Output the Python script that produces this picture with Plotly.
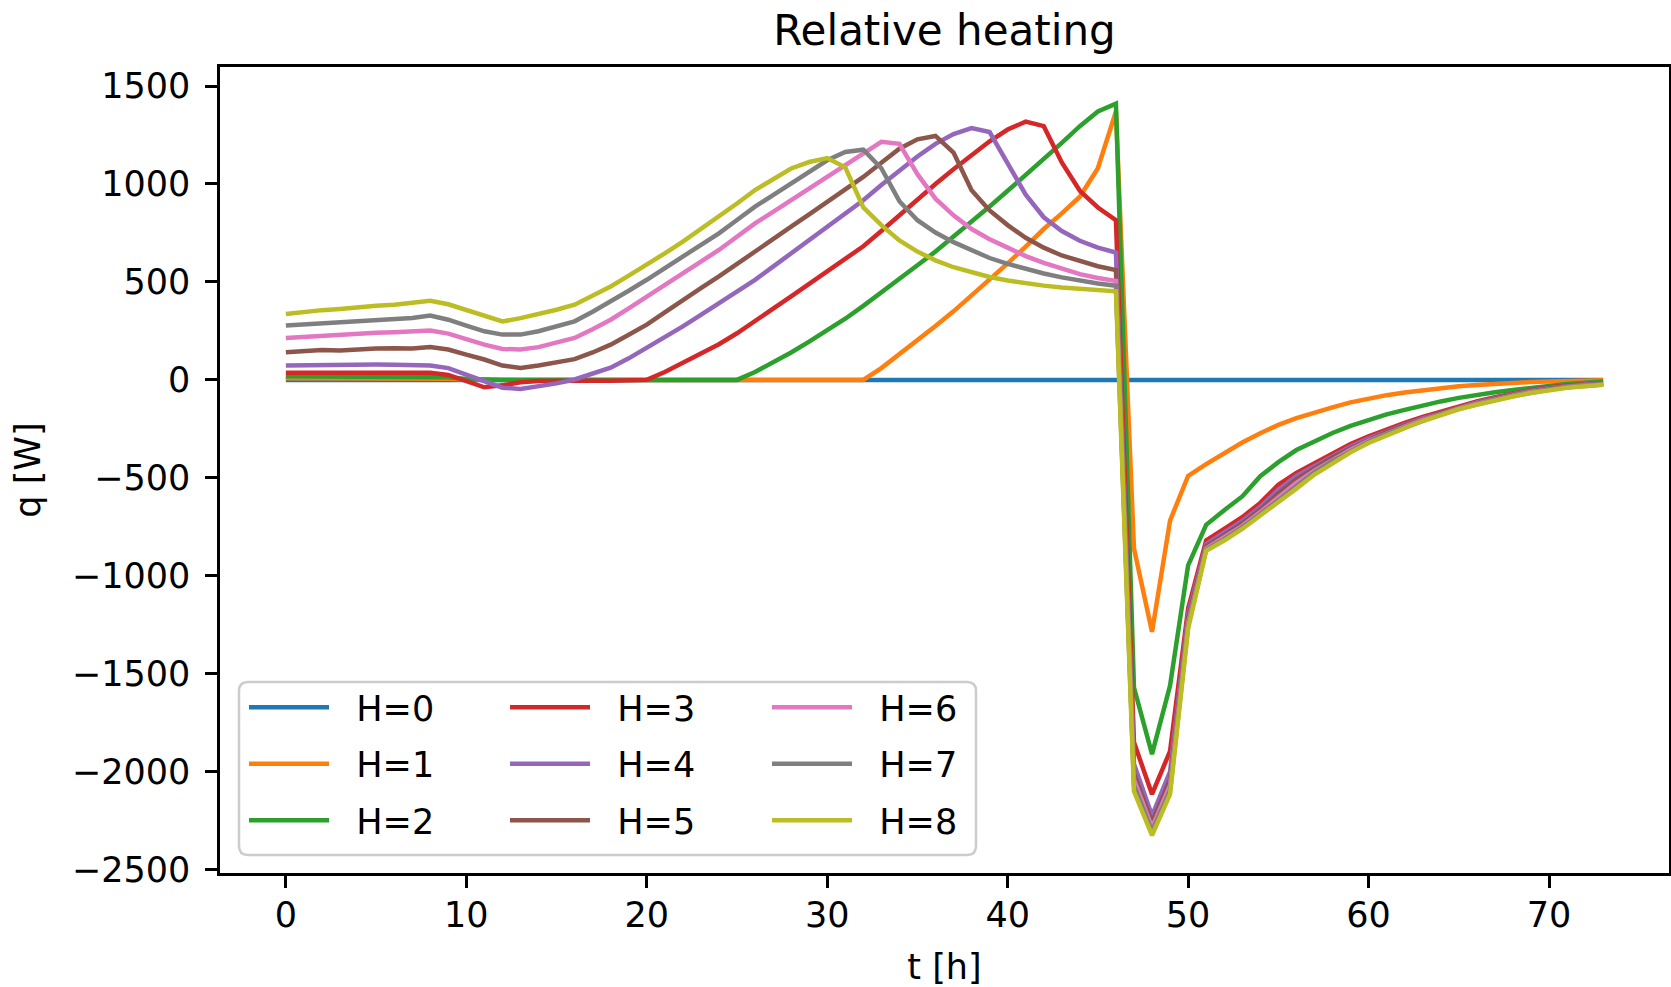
import plotly.graph_objects as go

# ---------------- data ----------------
t_hours = [0, 1, 2, 3, 4, 5, 6, 7, 8, 9, 10, 11, 12, 13, 14, 15, 16, 17, 18, 19,
           20, 21, 22, 23, 24, 25, 26, 27, 28, 29, 30, 31, 32, 33, 34, 35, 36, 37, 38, 39,
           40, 41, 42, 43, 44, 45, 46, 47, 48, 49, 50, 51, 52, 53, 54, 55, 56, 57, 58, 59,
           60, 61, 62, 63, 64, 65, 66, 67, 68, 69, 70, 71, 72, 73]

series_names = ["H=0", "H=1", "H=2", "H=3", "H=4", "H=5", "H=6", "H=7", "H=8"]

q_H0 = [0, 0, 0, 0, 0, 0, 0, 0, 0, 0, 0, 0, 0, 0, 0, 0, 0, 0, 0, 0,
        0, 0, 0, 0, 0, 0, 0, 0, 0, 0, 0, 0, 0, 0, 0, 0, 0, 0, 0, 0,
        0, 0, 0, 0, 0, 0, 0, 0, 0, 0, 0, 0, 0, 0, 0, 0, 0, 0, 0, 0,
        0, 0, 0, 0, 0, 0, 0, 0, 0, 0, 0, 0, 0, 0]

q_H1 = [8, 8, 8, 8, 8, 8, 8, 8, 8, 6, 2, 0, 0, 0, 0, 0, 0, 0, 0, 0,
        0, 0, 0, 0, 0, 0, 0, 0, 0, 0, 0, 0, 0, 60, 130, 200, 275, 350, 430, 510,
        595, 680, 770, 850, 935, 1080, 1370, -860, -1286, -718, -490, -430, -372, -320, -272, -230, -195, -165, -140, -115,
        -95, -78, -64, -52, -42, -33, -26, -20, -15, -11, -8, -5, -3, -2]

q_H2 = [18, 18, 18, 18, 18, 18, 18, 18, 18, 14, 5, 0, 0, 0, 0, 0, 0, 0, 0, 0,
        0, 0, 0, 0, 0, 0, 40, 88, 140, 195, 252, 312, 378, 445, 515, 585, 655, 730, 805, 885,
        965, 1045, 1125, 1210, 1295, 1370, 1410, -1570, -1910, -1560, -947, -740, -665, -595, -492, -420, -358, -314, -271, -235,
        -203, -176, -153, -130, -110, -92, -76, -63, -51, -40, -30, -21, -14, -8]

q_H3 = [36, 36, 36, 36, 36, 36, 36, 36, 36, 25, -5, -38, -28, -12, -6, -4, -4, -4, -4, -4,
        0, 40, 87, 132, 182, 238, 299, 362, 426, 490, 553, 616, 682, 760, 841, 920, 1000, 1075, 1150, 1218,
        1278, 1318, 1295, 1110, 965, 880, 815, -1850, -2115, -1895, -1168, -820, -761, -701, -628, -535, -475, -424, -373, -328,
        -288, -252, -220, -189, -161, -134, -110, -88, -68, -52, -38, -28, -22, -17]

q_H4 = [73, 75, 77, 78, 78, 78, 77, 75, 73, 60, 27, -8, -40, -46, -32, -18, 2, 30, 62, 110,
        163, 218, 273, 332, 392, 450, 511, 578, 646, 710, 775, 845, 917, 995, 1070, 1140, 1205, 1255, 1285, 1265,
        1105, 945, 830, 760, 710, 675, 650, -1960, -2225, -2000, -1195, -838, -779, -720, -648, -560, -490, -438, -386, -340,
        -298, -261, -228, -196, -167, -140, -115, -92, -72, -55, -41, -31, -24, -19]

q_H5 = [141, 148, 152, 150, 156, 160, 162, 160, 168, 155, 129, 104, 73, 61, 73, 88, 106, 140, 180, 230,
        282, 345, 409, 468, 528, 590, 655, 718, 782, 845, 909, 972, 1036, 1108, 1180, 1228, 1245, 1160, 968, 865,
        790, 725, 675, 635, 605, 580, 560, -2010, -2260, -2040, -1215, -850, -792, -733, -662, -580, -508, -450, -396, -349,
        -305, -267, -233, -200, -170, -143, -118, -96, -76, -59, -45, -35, -27, -21]

q_H6 = [214, 220, 226, 230, 236, 240, 243, 246, 252, 236, 206, 180, 158, 155, 167, 189, 214, 258, 307, 365,
        426, 485, 545, 604, 663, 730, 799, 858, 918, 977, 1036, 1095, 1155, 1215, 1205, 1050, 925, 840, 770, 718,
        675, 632, 597, 566, 540, 520, 505, -2040, -2285, -2070, -1240, -860, -805, -745, -675, -598, -525, -463, -407, -357,
        -311, -273, -238, -204, -173, -146, -121, -99, -79, -62, -47, -36, -29, -23]

q_H7 = [278, 284, 290, 296, 302, 306, 311, 316, 328, 307, 277, 248, 231, 231, 248, 273, 299, 348, 400, 455,
        511, 570, 628, 688, 748, 816, 884, 943, 1002, 1062, 1121, 1163, 1175, 1080, 912, 815, 752, 703, 660, 622,
        592, 566, 543, 523, 506, 492, 480, -2070, -2305, -2095, -1255, -866, -813, -753, -685, -612, -540, -472, -415, -363,
        -316, -277, -242, -207, -176, -148, -124, -102, -82, -64, -49, -38, -30, -24]

q_H8 = [336, 347, 356, 362, 372, 378, 384, 392, 404, 386, 358, 324, 298, 315, 336, 358, 384, 430, 477, 532,
        587, 646, 706, 770, 833, 900, 969, 1025, 1079, 1112, 1132, 1085, 880, 790, 712, 655, 610, 575, 547, 525,
        507, 492, 481, 472, 464, 457, 452, -2100, -2325, -2115, -1270, -872, -820, -761, -693, -630, -555, -483, -424, -370,
        -322, -282, -246, -210, -178, -150, -127, -105, -85, -67, -51, -40, -32, -25]

series_values = [q_H0, q_H1, q_H2, q_H3, q_H4, q_H5, q_H6, q_H7, q_H8]

x_tick_vals = [0, 10, 20, 30, 40, 50, 60, 70]
y_tick_vals = [-2500, -2000, -1500, -1000, -500, 0, 500, 1000, 1500]
y_tick_text = ["\u22122500", "\u22122000", "\u22121500", "\u22121000", "\u2212500", "0", "500", "1000", "1500"]

colors = ["#1f77b4", "#ff7f0e", "#2ca02c", "#d62728", "#9467bd",
          "#8c564b", "#e377c2", "#7f7f7f", "#bcbd22"]
legend_ids = ["legend", "legend", "legend", "legend2", "legend2", "legend2",
              "legend3", "legend3", "legend3"]

# ---------------- layout geometry ----------------
W, H = 1671, 987
ML, MR, MT, MB = 220, 2, 67, 114
PW, PH = W - ML - MR, H - MT - MB
FONT = "DejaVu Sans"

def px_x(px):
    return (px - ML) / PW

def px_y(py):
    return (H - MB - py) / PH

fig = go.Figure()
for name, vals, col, lg in zip(series_names, series_values, colors, legend_ids):
    fig.add_trace(go.Scatter(
        x=t_hours, y=vals, mode="lines", name="\u00a0\u00a0" + name,
        line=dict(color=col, width=4.5),
        legend=lg, legendgroup=name,
    ))

# rounded legend frame
bx0, bx1, by0, by1, r = 239, 976, 682, 855, 9
rx, ry = r / PW, r / PH
X0, X1, Yt, Yb = px_x(bx0), px_x(bx1), px_y(by0), px_y(by1)
path = (f"M {X0+rx},{Yt} L {X1-rx},{Yt} Q {X1},{Yt} {X1},{Yt-ry} "
        f"L {X1},{Yb+ry} Q {X1},{Yb} {X1-rx},{Yb} "
        f"L {X0+rx},{Yb} Q {X0},{Yb} {X0},{Yb+ry} "
        f"L {X0},{Yt-ry} Q {X0},{Yt} {X0+rx},{Yt} Z")
fig.add_shape(type="path", path=path, xref="paper", yref="paper",
              line=dict(color="#cccccc", width=2.5), fillcolor="white", layer="below")

leg_common = dict(
    font=dict(family=FONT, size=35, color="black"),
    bgcolor="rgba(0,0,0,0)", borderwidth=0,
    xanchor="left", yanchor="top", itemwidth=80,
    tracegroupgap=8, itemclick=False, itemdoubleclick=False,
)
leg_top = px_y(678)

fig.update_layout(
    width=W, height=H,
    margin=dict(l=ML, r=MR, t=MT, b=MB, autoexpand=False),
    paper_bgcolor="white", plot_bgcolor="white",
    font=dict(family=FONT, size=35, color="black"),
    title=dict(text="Relative heating", x=(ML + PW / 2) / W, xanchor="center",
               y=1 - 30 / H, yanchor="middle", yref="container",
               font=dict(family=FONT, size=42, color="black")),
    showlegend=True,
    legend=dict(x=px_x(244), y=leg_top, **leg_common),
    legend2=dict(x=px_x(505), y=leg_top, **leg_common),
    legend3=dict(x=px_x(767), y=leg_top, **leg_common),
    xaxis=dict(
        range=[-3.65, 76.65], tickmode="array", tickvals=x_tick_vals,
        ticks="outside", ticklen=12, tickwidth=2.5, tickcolor="black",
        showline=True, linecolor="black", linewidth=2.5, mirror=True,
        showgrid=False, zeroline=False, ticklabelstandoff=-3,
        tickfont=dict(family=FONT, size=35, color="black"),
        title=dict(text="t [h]", standoff=21, font=dict(family=FONT, size=35, color="black")),
        automargin=False,
    ),
    yaxis=dict(
        range=[-2517, 1597], tickmode="array", tickvals=y_tick_vals, ticktext=y_tick_text,
        ticks="outside", ticklen=12, tickwidth=2.5, tickcolor="black",
        showline=True, linecolor="black", linewidth=2.5, mirror=True,
        showgrid=False, zeroline=False, ticklabelstandoff=8,
        tickfont=dict(family=FONT, size=35, color="black"),
        title=dict(text="q [W]", standoff=21, font=dict(family=FONT, size=35, color="black")),
        automargin=False,
    ),
)

fig.write_html("out.html", config={"displayModeBar": False},
               post_script="document.body.style.margin='0px';")
